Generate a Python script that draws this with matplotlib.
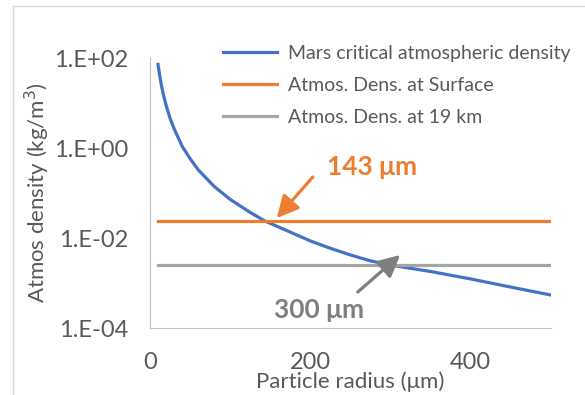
import numpy as np
import matplotlib.pyplot as plt
from matplotlib.patches import Rectangle

plt.rcParams["font.family"] = ["Lato", "DejaVu Sans"]

# particle radius (um) and critical atmospheric density (kg/m3)
radius = [10, 12.5, 15, 17.5, 20, 25, 30, 40, 50, 60, 80, 100, 125, 143, 175, 200, 225, 250, 275,
          300, 350, 400, 450, 500]
crit_density = [72, 37, 21, 13.4, 9.0, 4.6, 2.7, 1.1, 0.58, 0.33, 0.14, 0.072, 0.037, 0.024, 0.0135,
                0.0086, 0.0059, 0.0042, 0.0031, 0.0025, 0.0018, 0.00123, 0.00081, 0.00054]
surface_density = 0.024
dens_19km = 0.0025
line_x = [10, 500]

blue = "#4472C4"
orange = "#ED7D31"
gray = "#A5A5A5"
dgray = "#7F7F7F"
txt = "#595959"

fig = plt.figure(figsize=(5.85, 3.95), dpi=100)
fig.patches.append(Rectangle((13 / 585, -0.1), 1.2, 1 - 6 / 395 + 0.1, transform=fig.transFigure,
                             fill=False, edgecolor="#D9D9D9", linewidth=1))
ax = fig.add_axes([0.2564, 0.1696, 0.6855, 0.6835])

ax.plot(radius, crit_density, color=blue, lw=2.3, label="Mars critical atmospheric density")
ax.plot(line_x, [surface_density] * 2, color=orange, lw=2.3, label="Atmos. Dens. at Surface")
ax.plot(line_x, [dens_19km] * 2, color=gray, lw=2.3, label="Atmos. Dens. at 19 km")

ax.set_yscale("log")
ax.set_ylim(1e-4, 1e2)
ax.set_xlim(0, 500)
ax.set_yticks([1e-4, 1e-2, 1e0, 1e2])
ax.set_yticklabels(["1.E-04", "1.E-02", "1.E+00", "1.E+02"])
ax.yaxis.set_minor_locator(plt.NullLocator())
ax.set_xticks([0, 200, 400])
ax.tick_params(length=0, labelsize=17, colors=txt)
ax.tick_params(axis="y", pad=16)
ax.tick_params(axis="x", pad=17)
for s in ["top", "right"]:
    ax.spines[s].set_visible(False)
for s in ["left", "bottom"]:
    ax.spines[s].set_color("#BFBFBF")

ax.set_xlabel("Particle radius (\u03bcm)", fontsize=16, color=txt, labelpad=-1)
ax.set_ylabel("Atmos density (kg/m$^3$)", fontsize=16, color=txt, labelpad=1)

# callouts
ax.text(277, 0.38, "143 \u03bcm", color=orange, fontsize=19, fontweight="bold", ha="center", va="center")
ax.text(211, 0.00025, "300 \u03bcm", color=dgray, fontsize=19, fontweight="bold", ha="center", va="center")
ax.annotate("", xy=(158, 0.0278), xytext=(203, 0.227),
            arrowprops=dict(arrowstyle="-|>,head_length=0.6,head_width=0.3", color=orange, lw=2.3,
                            shrinkA=0, shrinkB=0, mutation_scale=22))
ax.annotate("", xy=(312, 0.0042), xytext=(259, 0.00063),
            arrowprops=dict(arrowstyle="-|>,head_length=0.6,head_width=0.3", color=dgray, lw=2.3,
                            shrinkA=0, shrinkB=0, mutation_scale=22))

ax.legend(loc="upper left", bbox_to_anchor=(223 / 585, 1 - 45 / 395), bbox_transform=fig.transFigure,
          frameon=False, fontsize=14, labelcolor=txt, handlelength=2.8, handletextpad=0.55,
          labelspacing=0.76, borderaxespad=0, borderpad=0)

fig.savefig("out.png", dpi=100)
